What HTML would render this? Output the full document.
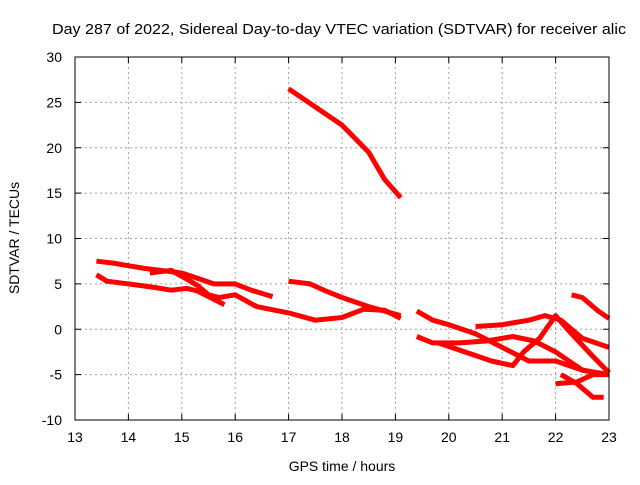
<!DOCTYPE html>
<html><head><meta charset="utf-8"><style>
body{margin:0;background:#fff;}
svg text{font-family:"Liberation Sans",sans-serif;font-size:14px;fill:#000;}
</style></head><body>
<svg id="chart" width="640" height="480" xmlns="http://www.w3.org/2000/svg">
<text x="52" y="34" textLength="574" lengthAdjust="spacingAndGlyphs" style="font-size:15px">Day 287 of 2022, Sidereal Day-to-day VTEC variation (SDTVAR) for receiver alic</text>
<g id="grid"></g>
<g id="ticks"></g>
<g id="series"></g>
<rect x="75" y="57" width="534" height="363" fill="none" stroke="#000" stroke-width="1"/>
<text x="342" y="471" text-anchor="middle">GPS time / hours</text>
<text transform="translate(19,238) rotate(-90)" text-anchor="middle">SDTVAR / TECUs</text>
</svg>
<script>
const xTicks=[13,14,15,16,17,18,19,20,21,22,23];
const yTicks=[-10,-5,0,5,10,15,20,25,30];
const seriesA=[[13.4,7.5],[13.7,7.3],[14.0,7.0],[14.3,6.7],[14.6,6.5],[15.0,6.2],[15.3,5.6],[15.6,5.0],[16.0,5.0],[16.3,4.3],[16.7,3.6]];
const seriesB=[[13.4,6.0],[13.6,5.3],[14.0,5.0],[14.5,4.6],[14.8,4.3],[15.1,4.5],[15.3,4.2],[15.6,3.3],[15.8,2.7]];
const seriesC=[[14.4,6.2],[14.8,6.5],[15.1,5.5],[15.3,4.8],[15.5,3.8],[15.7,3.5],[16.0,3.8],[16.4,2.5],[17.0,1.8],[17.5,1.0],[18.0,1.3],[18.4,2.2],[18.8,2.1],[19.1,1.2]];
const seriesD=[[17.0,5.3],[17.4,5.0],[17.7,4.2],[18.0,3.5],[18.5,2.5],[19.1,1.5]];
const seriesE=[[17.0,26.5],[17.5,24.5],[18.0,22.5],[18.5,19.5],[18.8,16.5],[19.1,14.5]];
const seriesF=[[19.4,2.0],[19.7,1.0],[20.0,0.5],[20.5,-0.5],[21.0,-2.0],[21.5,-3.5],[22.0,-3.5],[22.5,-4.5],[23.0,-5.0]];
const seriesG=[[19.4,-0.8],[19.7,-1.5],[20.2,-1.5],[20.7,-1.3],[21.2,-0.8],[21.6,-1.3],[22.0,-2.5],[22.5,-4.5],[22.9,-5.0]];
const seriesH=[[20.5,0.3],[21.0,0.5],[21.5,1.0],[21.8,1.5],[22.1,1.0],[22.5,-1.0],[23.0,-2.0]];
const seriesI=[[19.8,-1.5],[20.3,-2.5],[20.8,-3.5],[21.2,-4.0],[21.4,-2.5],[21.7,-1.0],[22.0,1.5],[22.3,-0.5],[22.7,-3.0],[23.0,-4.8]];
const seriesJ=[[22.0,-6.0],[22.4,-5.8],[22.7,-5.0],[23.0,-5.0]];
const seriesK=[[22.1,-5.0],[22.4,-6.0],[22.7,-7.5],[22.9,-7.5]];
const seriesL=[[22.3,3.8],[22.5,3.5],[22.8,2.0],[23.0,1.2]];
const allSeries=[seriesA,seriesB,seriesC,seriesD,seriesE,seriesF,seriesG,seriesH,seriesI,seriesJ,seriesK,seriesL];
const NS="http://www.w3.org/2000/svg";
function xs(v){return 75+(v-13)/10*534;}
function ys(v){return 420-(v+10)/40*363;}
const grid=document.getElementById('grid'),ticks=document.getElementById('ticks'),ser=document.getElementById('series');
function mk(tag,attrs,parent){const e=document.createElementNS(NS,tag);for(const k in attrs)e.setAttribute(k,attrs[k]);parent.appendChild(e);return e;}
xTicks.forEach(t=>{
 const x=xs(t);
 if(t>13&&t<23){const l=mk('line',{x1:x,x2:x,y1:57,y2:420,stroke:'#a0a0a0','stroke-dasharray':'2,3'},grid);
 
 }
 mk('line',{x1:x,x2:x,y1:420,y2:414,stroke:'#000'},ticks);
 mk('line',{x1:x,x2:x,y1:57,y2:63,stroke:'#000'},ticks);
 const tx=mk('text',{x:x,y:442,'text-anchor':'middle'},ticks);tx.textContent=t;
 
 
});
yTicks.forEach(t=>{
 const y=ys(t);
 if(t>-10&&t<30){const l=mk('line',{x1:75,x2:609,y1:y,y2:y,stroke:'#a0a0a0','stroke-dasharray':'2,3'},grid);
 
 }
 mk('line',{x1:75,x2:81,y1:y,y2:y,stroke:'#000'},ticks);
 mk('line',{x1:609,x2:603,y1:y,y2:y,stroke:'#000'},ticks);
 const tx=mk('text',{x:62,y:y+5,'text-anchor':'end'},ticks);tx.textContent=t;
 
 
});
allSeries.forEach((s,i)=>{
 const d=s.map((p,j)=>(j?'L':'M')+xs(p[0]).toFixed(1)+','+ys(p[1]).toFixed(1)).join(' ');
 const p=mk('path',{d:d,fill:'none',stroke:'#ff0000','stroke-width':5,'stroke-linejoin':'round'},ser);
 
 
});
</script>
</body></html>
